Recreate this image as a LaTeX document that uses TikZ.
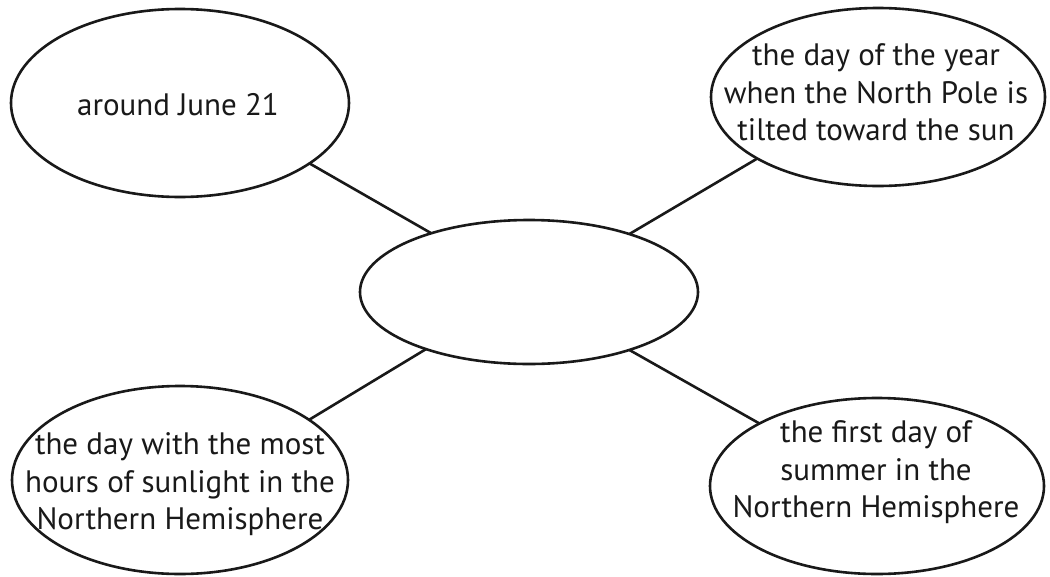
\documentclass[tikz,border=0pt]{standalone}
\usepackage{fontspec}
\setmainfont{PT Sans}
\usetikzlibrary{shapes.geometric}
\begin{document}
\begin{tikzpicture}[x=1pt,y=-1pt,
  oval/.style={draw=black!90, line width=2.6pt, ellipse, inner sep=0pt, outer sep=0pt},
  txt/.style={align=center, inner sep=0pt, text=black!90, font=\fontsize{31}{37.5}\selectfont},
  link/.style={draw=black!90, line width=2.6pt}]
\useasboundingbox[fill=white] (0,0) rectangle (1050,576);
\node[oval, minimum width=338pt, minimum height=188pt] (a) at (180,103) {};
\node[oval, minimum width=334pt, minimum height=178pt] (b) at (878,97) {};
\node[oval, minimum width=338pt, minimum height=144pt] (c) at (529,292) {};
\node[oval, minimum width=336pt, minimum height=188pt] (d) at (180,480) {};
\node[oval, minimum width=334pt, minimum height=176pt] (e) at (877,486) {};
\node[txt] (at) at (178,107.5) {\strut around June 21};
\node[txt] (bt) at (876,95.5) {\strut the day of the year\\\strut when the North Pole is\\\strut tilted toward the sun};
\node[txt] (dt) at (180,484.5) {\strut the day with the most\\\strut hours of sunlight in the\\\strut Northern Hemisphere};
\node[txt] (et) at (876,472.5) {\strut the first day of\\\strut summer in the\\\strut Northern Hemisphere};
\draw[link] (a.-25.1) -- (c.149.7);
\draw[link] (b.207.7) -- (c.30.3);
\draw[link] (d.25.5) -- (c.209.9);
\draw[link] (e.152.3) -- (c.330);
\end{tikzpicture}
\end{document}
